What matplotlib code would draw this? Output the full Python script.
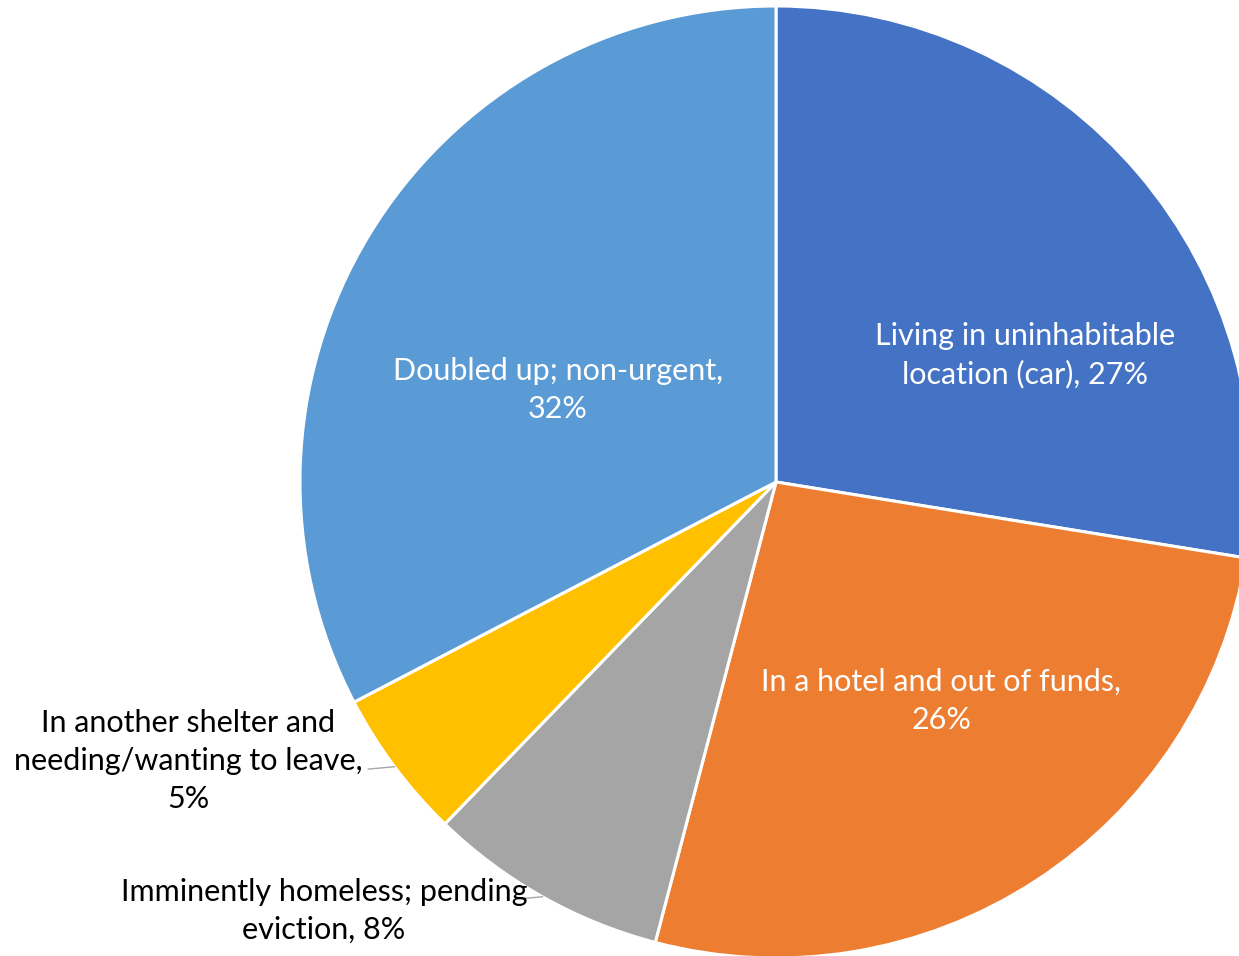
import numpy as np
import matplotlib
matplotlib.use("Agg")
from matplotlib import pyplot as plt

plt.rcParams['font.family'] = ['Lato', 'DejaVu Sans']

labels = ["Living in uninhabitable\nlocation (car), 27%",
          "In a hotel and out of funds,\n26%",
          "Imminently homeless; pending\neviction, 8%",
          "In another shelter and\nneeding/wanting to leave,\n5%",
          "Doubled up; non-urgent,\n32%"]
values = [27, 26, 8, 5, 32]
colors = ["#4472C4", "#ED7D31", "#A5A5A5", "#FFC000", "#5B9BD5"]

# label centres in pie-radius units, and whether the label sits outside
label_pos = [(0.523, 0.267), (0.347, -0.460), (-0.950, -0.901),
             (-1.235, -0.586), (-0.458, 0.193)]
outside = [False, False, True, True, False]

fig = plt.figure(figsize=(12.39, 9.56), dpi=100)
ax = fig.add_axes([0, 0, 1, 1])
cx, cy, r = 776, 482, 476

wedges, _ = ax.pie(values, colors=colors, startangle=90, counterclock=False,
                   radius=1, center=(0, 0),
                   wedgeprops=dict(edgecolor="white", linewidth=2.2))

ax.set_xlim(-cx / r, (1239 - cx) / r)
ax.set_ylim((cy - 956) / r, cy / r)
ax.set_aspect("equal")
ax.axis("off")

for w, lab, (lx, ly), out in zip(wedges, labels, label_pos, outside):
    if out:
        mid = np.deg2rad((w.theta1 + w.theta2) / 2)
        ex, ey = np.cos(mid), np.sin(mid)
        ax.text(lx, ly, lab, ha="center", va="center", fontsize=22,
                color="black", linespacing=1.42)
        # short leader from the text to the wedge edge
        ax.plot([ex - 0.055, ex], [ey - 0.005, ey], color="#A6A6A6",
                linewidth=1, clip_on=False)
    else:
        ax.text(lx, ly, lab, ha="center", va="center", fontsize=22,
                color="white", linespacing=1.42)

fig.savefig("out.png", dpi=100)
